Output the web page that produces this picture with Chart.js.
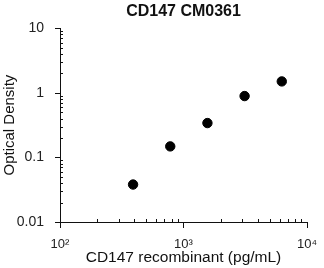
<!DOCTYPE html>
<html>
<head>
<meta charset="utf-8">
<script src="https://cdn.jsdelivr.net/npm/chart.js@4"></script>
<style>
  body { margin: 0; background: #fff; }
  canvas { display: block; }
</style>
</head>
<body>
<canvas id="odChart" width="324" height="268"></canvas>
<script>
// Standard curve values
const concentrations = [390.6, 781.3, 1562.5, 3125, 6250];
const opticalDensity = [0.038, 0.148, 0.34, 0.89, 1.5];

const xTickValues = [100, 1000, 10000];
const xTickLabels = ['10²', '10³', '10⁴'];
const yTickValues = [0.01, 0.1, 1, 10];
const yTickLabels = ['0.01', '0.1', '1', '10'];

const FONT = "'Liberation Sans', Arial, sans-serif";

// Draw axis lines with outward major and inward minor ticks
const logAxesPlugin = {
    id: 'logAxes',
    beforeDatasetsDraw(chart) {
        const ctx = chart.ctx;
        const xs = chart.scales.x;
        const ys = chart.scales.y;
        const left = xs.left, right = xs.right, top = ys.top, bottom = ys.bottom;

        ctx.save();
        ctx.strokeStyle = '#111';
        ctx.lineWidth = 1;
        ctx.beginPath();
        ctx.moveTo(left + 0.5, top);
        ctx.lineTo(left + 0.5, bottom + 0.5);
        ctx.lineTo(right, bottom + 0.5);

        // x ticks
        for (let d = 100; d <= 10000; d *= 10) {
            const px = Math.round(xs.getPixelForValue(d)) + 0.5;
            ctx.moveTo(px, bottom);
            ctx.lineTo(px, bottom + 6);
            if (d < 10000) {
                for (let m = 2; m <= 9; m++) {
                    const mx = Math.round(xs.getPixelForValue(d * m)) + 0.5;
                    ctx.moveTo(mx, bottom);
                    ctx.lineTo(mx, bottom - 3);
                }
            }
        }

        // y ticks
        for (let d = 0.01; d <= 10.0001; d *= 10) {
            const py = Math.round(ys.getPixelForValue(d)) + 0.5;
            ctx.moveTo(left - 5, py);
            ctx.lineTo(left + 1, py);
            if (d < 9) {
                for (let m = 2; m <= 9; m++) {
                    const my = Math.round(ys.getPixelForValue(d * m)) + 0.5;
                    ctx.moveTo(left, my);
                    ctx.lineTo(left + 3, my);
                }
            }
        }
        ctx.stroke();
        ctx.restore();
    }
};

new Chart(document.getElementById('odChart'), {
    type: 'scatter',
    data: {
        datasets: [{
            label: 'CD147',
            data: concentrations.map((c, i) => ({ x: c, y: opticalDensity[i] })),
            backgroundColor: '#000',
            borderColor: '#000',
            pointRadius: 4.7,
            pointHoverRadius: 4.7
        }]
    },
    options: {
        responsive: false,
        animation: false,
        layout: { padding: { left: 0, right: 16, top: 0, bottom: 0 } },
        plugins: {
            legend: { display: false },
            tooltip: { enabled: false },
            title: {
                display: true,
                text: 'CD147 CM0361',
                fullSize: false,
                color: '#111',
                font: { family: FONT, size: 16, weight: 'bold' },
                padding: { top: 2, bottom: 7 }
            }
        },
        scales: {
            x: {
                type: 'logarithmic',
                min: 100,
                max: 10000,
                grid: { display: false },
                border: { display: false },
                afterBuildTicks: s => { s.ticks = xTickValues.map(v => ({ value: v })); },
                afterFit: s => { s.height = 46; },
                ticks: {
                    autoSkip: false,
                    maxRotation: 0,
                    padding: 7,
                    color: '#222',
                    font: { family: FONT, size: 13 },
                    callback: (v, i) => xTickLabels[i]
                },
                title: {
                    display: true,
                    text: 'CD147 recombinant (pg/mL)',
                    color: '#111',
                    font: { family: FONT, size: 15.5 },
                    padding: { top: 2, bottom: 1 }
                }
            },
            y: {
                type: 'logarithmic',
                min: 0.01,
                max: 10,
                grid: { display: false },
                border: { display: false },
                afterBuildTicks: s => { s.ticks = yTickValues.map(v => ({ value: v })); },
                afterFit: s => { s.width = 60; },
                ticks: {
                    autoSkip: false,
                    padding: 8,
                    color: '#222',
                    font: { family: FONT, size: 14 },
                    callback: (v, i) => yTickLabels[i]
                },
                title: {
                    display: true,
                    text: 'Optical Density',
                    color: '#111',
                    font: { family: FONT, size: 15 },
                    padding: { top: 1, bottom: 4 }
                }
            }
        }
    },
    plugins: [logAxesPlugin]
});
</script>
</body>
</html>
